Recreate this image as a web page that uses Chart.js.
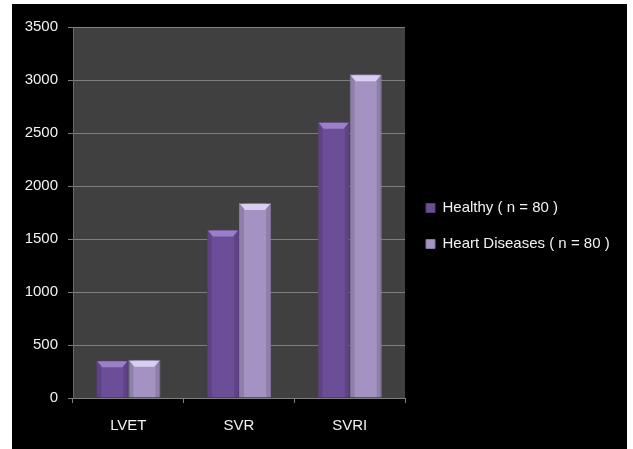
<!DOCTYPE html>
<html>
<head>
<meta charset="utf-8">
<script src="https://cdn.jsdelivr.net/npm/chart.js@4/dist/chart.umd.min.js"></script>
<style>
	html, body { margin: 0; padding: 0; background: #fff; }
	#wrap { position: absolute; left: 12px; top: 4px; width: 615px; height: 445px; background: #000; }
</style>
</head>
<body>
<div id="wrap"><canvas id="chart_main"></canvas></div>
<script>
'use strict';

const categories = ['LVET', 'SVR', 'SVRI'];
const healthy = [355, 1590, 2605];
const heartDiseases = [360, 1840, 3055];
const yTicks = [0, 500, 1000, 1500, 2000, 2500, 3000, 3500];

const COLORS = {
	healthy: '#6c4e98',
	healthyBorder: '#563c7c',
	healthyTop: '#9b7fc8',
	heart: '#a392c2',
	heartBorder: '#8676a6',
	heartTop: '#d9cdf0',
	plot: '#404040',
	grid: '#7e7e7e',
	text: '#f2f2f2',
};

const FONT = '"Liberation Sans", Arial, sans-serif';

// grey plot area behind the bars
const plotBackground = {
	id: 'plotBackground',
	beforeDraw(chart) {
		let {ctx, chartArea} = chart;
		ctx.save();
		ctx.fillStyle = COLORS.plot;
		ctx.fillRect(chartArea.left, chartArea.top, chartArea.right - chartArea.left, chartArea.bottom - chartArea.top);
		ctx.restore();
	},
};

// bevel look of the office style bars: lighter top cap, darker side strips
const barBevel = {
	id: 'barBevel',
	afterDatasetsDraw(chart) {
		let ctx = chart.ctx,
			tops = [COLORS.healthyTop, COLORS.heartTop];
		ctx.save();
		chart.data.datasets.forEach((ds, di) => {
			chart.getDatasetMeta(di).data.forEach(bar => {
				let {x, y, width, base} = bar.getProps(['x', 'y', 'width', 'base'], true),
					l = x - width / 2,
					r = x + width / 2,
					h = 7;
				ctx.fillStyle = 'rgba(0,0,0,0.12)';
				ctx.fillRect(l + 1, y, 4, base - y);
				ctx.fillRect(r - 5, y, 4, base - y);
				ctx.fillStyle = tops[di];
				ctx.beginPath();
				ctx.moveTo(l + 1, y + 1);
				ctx.lineTo(r - 1, y + 1);
				ctx.lineTo(r - 6, y + h);
				ctx.lineTo(l + 6, y + h);
				ctx.closePath();
				ctx.fill();
			});
		});
		ctx.restore();
	},
};

// fixed legend width so the plot ends where the reference plot ends,
// and the items sit a little higher than the default centering
const legendPlace = {
	id: 'legendPlace',
	beforeLayout(chart) {
		let legend = chart.legend;
		if (legend && !legend._placed) {
			let fit = legend.fit,
				draw = legend.draw;
			legend.fit = function () {
				fit.call(this);
				this.width = 222;
			};
			legend.draw = function (area) {
				this.ctx.save();
				this.ctx.translate(0, -12);
				draw.call(this, area);
				this.ctx.restore();
			};
			legend._placed = true;
		}
	},
};

let config = {
	type: 'bar',
	data: {
		labels: categories,
		datasets: [{
			label: 'Healthy ( n = 80 )',
			data: healthy,
			backgroundColor: COLORS.healthy,
			borderColor: COLORS.healthyBorder,
			borderWidth: 1,
		}, {
			label: 'Heart Diseases ( n = 80 )',
			data: heartDiseases,
			backgroundColor: COLORS.heart,
			borderColor: COLORS.heartBorder,
			borderWidth: 1,
		}],
	},
	options: {
		responsive: true,
		maintainAspectRatio: false,
		animation: false,
		layout: {padding: {top: 23, right: 0, left: 0, bottom: 0}},
		datasets: {bar: {categoryPercentage: 0.58, barPercentage: 1}},
		plugins: {
			tooltip: {enabled: false},
			legend: {
				position: 'right',
				maxWidth: 240,
				labels: {
					color: COLORS.text,
					font: {family: FONT, size: 15},
					boxWidth: 9,
					boxHeight: 9,
					padding: 21,
				},
			},
		},
		scales: {
			x: {
				grid: {display: true, drawOnChartArea: false, drawTicks: true, tickLength: 5, color: COLORS.grid, offset: true},
				border: {display: true, color: COLORS.grid},
				ticks: {color: COLORS.text, font: {family: FONT, size: 15}, padding: 14},
				afterFit: scale => { scale.height = 51; },
			},
			y: {
				min: 0,
				max: 3500,
				afterBuildTicks: scale => { scale.ticks = yTicks.map(v => ({value: v})); },
				grid: {color: COLORS.grid, tickLength: 5},
				border: {display: true, color: '#6a6a6a'},
				ticks: {color: COLORS.text, font: {family: FONT, size: 15}, padding: 10, callback: v => String(v)},
				afterFit: scale => { scale.width = 61; },
			},
		},
	},
	plugins: [plotBackground, barBevel, legendPlace],
};

let ctx = document.getElementById('chart_main').getContext('2d');
window.ChartMain = new Chart(ctx, config);
</script>
</body>
</html>
